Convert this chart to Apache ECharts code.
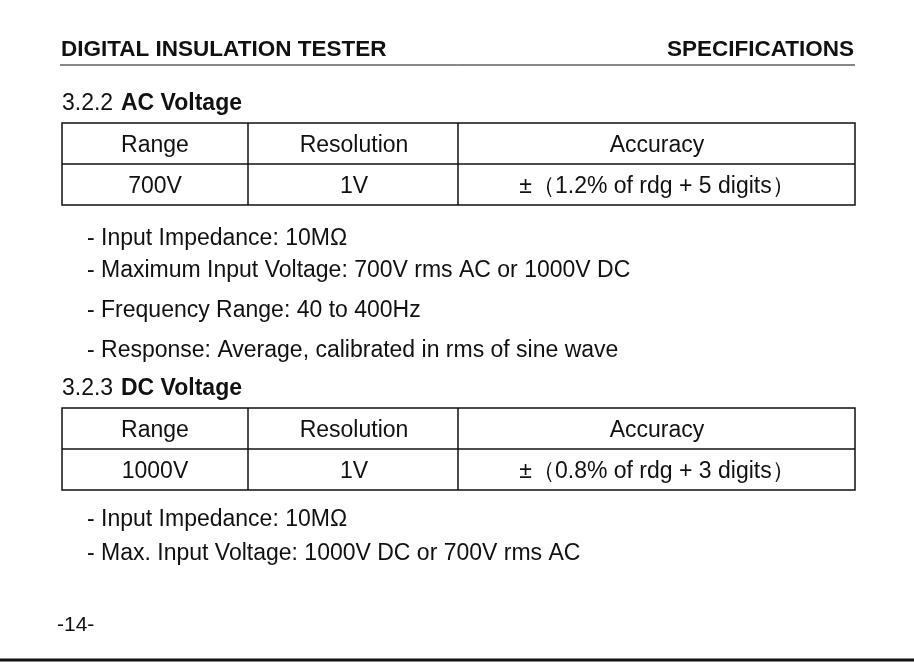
<!DOCTYPE html>
<html>
<head>
<meta charset="utf-8">
<script src="https://cdn.jsdelivr.net/npm/echarts@6/dist/echarts.min.js"></script>
<style>
  html, body { margin: 0; padding: 0; background: #fff; }
  #page { width: 914px; height: 662px; }
</style>
</head>
<body>
<div id="page"></div>
<script>
var headerLeft = 'DIGITAL INSULATION TESTER';
var headerRight = 'SPECIFICATIONS';
var tableHead = ['Range', 'Resolution', 'Accuracy'];
var acNumber = '3.2.2 ';
var acTitle = 'AC Voltage';
var acRow = ['700V', '1V', '\u00b1\uff081.2% of rdg + 5 digits\uff09'];
var acNotes = [
  '- Input Impedance: 10M\u03a9',
  '- Maximum Input Voltage: 700V rms AC or 1000V DC',
  '- Frequency Range: 40 to 400Hz',
  '- Response: Average, calibrated in rms of sine wave'
];
var dcNumber = '3.2.3 ';
var dcTitle = 'DC Voltage';
var dcRow = ['1000V', '1V', '\u00b1\uff080.8% of rdg + 3 digits\uff09'];
var dcNotes = [
  '- Input Impedance: 10M\u03a9',
  '- Max. Input Voltage: 1000V DC or 700V rms AC'
];
var pageNo = '-14-';

var font = '"Liberation Sans", Arial, sans-serif';
var colX = [62, 248, 458, 855];
var colCenter = [155, 354, 657];

function txt(x, y, s, opts) {
  opts = opts || {};
  return {
    type: 'text', x: x, y: y,
    style: {
      text: s, fill: '#111', fontFamily: font,
      fontSize: opts.size || 23, fontWeight: opts.bold ? 'bold' : 'normal',
      align: opts.align || 'left', verticalAlign: 'middle'
    }
  };
}
function line(x1, y1, x2, y2, w) {
  return { type: 'line', shape: { x1: x1, y1: y1, x2: x2, y2: y2 },
    style: { stroke: '#111', lineWidth: w || 1.5 } };
}
function table(top, row) {
  var els = [], bottom = top + 82, mid = top + 41;
  els.push({ type: 'rect', shape: { x: colX[0], y: top, width: colX[3] - colX[0], height: 82 },
    style: { fill: 'none', stroke: '#111', lineWidth: 1.5 } });
  els.push(line(colX[0], mid, colX[3], mid));
  els.push(line(colX[1], top, colX[1], bottom));
  els.push(line(colX[2], top, colX[2], bottom));
  tableHead.forEach(function (h, i) { els.push(txt(colCenter[i], top + 23, h, { align: 'center' })); });
  row.forEach(function (v, i) { els.push(txt(colCenter[i], mid + 23, v, { align: 'center' })); });
  return els;
}

var els = [];
els.push(txt(61, 50, headerLeft, { bold: true, size: 22.5 }));
els.push(txt(854, 50, headerRight, { bold: true, size: 22.5, align: 'right' }));
els.push(line(60, 65, 855, 65, 1));
els.push(txt(62, 104, acNumber, {}));
els.push(txt(121, 104, acTitle, { bold: true }));
els = els.concat(table(123, acRow));
acNotes.forEach(function (n, i) { els.push(txt(87, [239, 271, 311, 351][i], n)); });
els.push(txt(62, 389, dcNumber, {}));
els.push(txt(121, 389, dcTitle, { bold: true }));
els = els.concat(table(408, dcRow));
dcNotes.forEach(function (n, i) { els.push(txt(87, [520, 554][i], n)); });
els.push(txt(57, 625, pageNo, { size: 21 }));
els.push(line(0, 660, 914, 660, 3));

var chart = echarts.init(document.getElementById('page'));
chart.setOption({ animation: false, backgroundColor: '#fff', graphic: { elements: els } });
</script>
</body>
</html>
